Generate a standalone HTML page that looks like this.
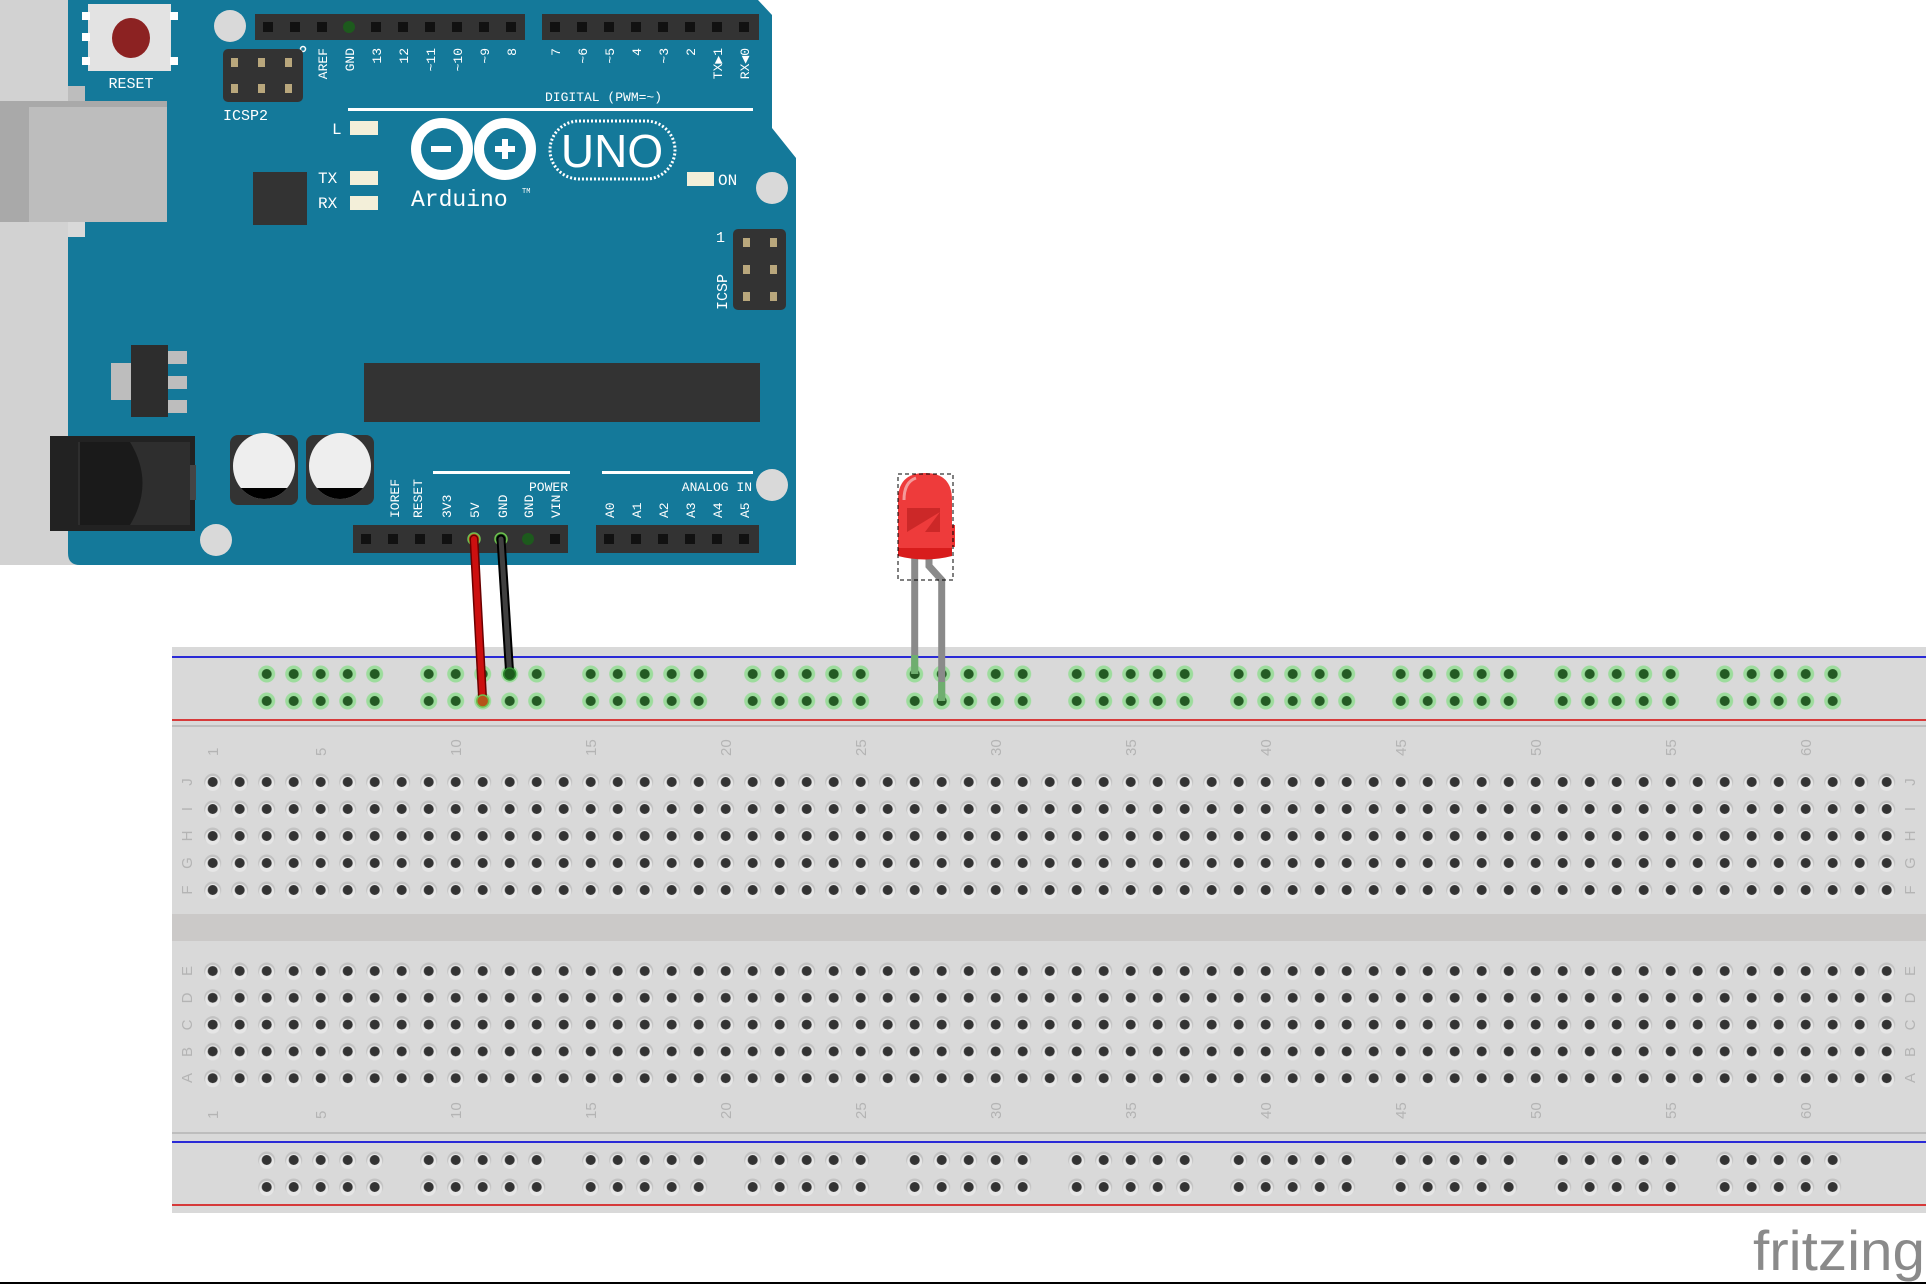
<!DOCTYPE html>
<html><head><meta charset="utf-8"><style>
html,body{margin:0;padding:0;background:#fff;}
svg{display:block;}
.w{fill:#fff;font-family:"Liberation Mono",monospace;}
.n{fill:#b4b4b4;font-family:"Liberation Sans",sans-serif;font-size:15px;}
</style></head><body>
<svg width="1926" height="1284" viewBox="0 0 1926 1284" xmlns="http://www.w3.org/2000/svg">
<defs>
<pattern id="hole" patternUnits="userSpaceOnUse" x="199.2" y="768.5" width="27" height="27">
<circle cx="13.5" cy="13.5" r="8.5" fill="#c2c2c2"/><circle cx="13.5" cy="15" r="7.5" fill="#e6e6e6"/><circle cx="13.5" cy="13.5" r="5" fill="#333"/></pattern>
<pattern id="hole2" patternUnits="userSpaceOnUse" x="199.2" y="957.5" width="27" height="26.8">
<circle cx="13.5" cy="13.5" r="8.5" fill="#c2c2c2"/><circle cx="13.5" cy="15" r="7.5" fill="#e6e6e6"/><circle cx="13.5" cy="13.5" r="5" fill="#333"/></pattern>
<pattern id="grail" patternUnits="userSpaceOnUse" x="253.2" y="660.5" width="162" height="27">
<g fill="#9ddc9d"><circle cx="13.5" cy="13.5" r="8.5"/><circle cx="40.5" cy="13.5" r="8.5"/><circle cx="67.5" cy="13.5" r="8.5"/><circle cx="94.5" cy="13.5" r="8.5"/><circle cx="121.5" cy="13.5" r="8.5"/></g>
<g fill="#245a24"><circle cx="13.5" cy="13.5" r="5"/><circle cx="40.5" cy="13.5" r="5"/><circle cx="67.5" cy="13.5" r="5"/><circle cx="94.5" cy="13.5" r="5"/><circle cx="121.5" cy="13.5" r="5"/></g></pattern>
<pattern id="brail" patternUnits="userSpaceOnUse" x="253.2" y="1146.5" width="162" height="27">
<g fill="#c2c2c2"><circle cx="13.5" cy="13.5" r="8.5"/><circle cx="40.5" cy="13.5" r="8.5"/><circle cx="67.5" cy="13.5" r="8.5"/><circle cx="94.5" cy="13.5" r="8.5"/><circle cx="121.5" cy="13.5" r="8.5"/></g>
<g fill="#e6e6e6"><circle cx="13.5" cy="15" r="7.5"/><circle cx="40.5" cy="15" r="7.5"/><circle cx="67.5" cy="15" r="7.5"/><circle cx="94.5" cy="15" r="7.5"/><circle cx="121.5" cy="15" r="7.5"/></g>
<g fill="#333"><circle cx="13.5" cy="13.5" r="5"/><circle cx="40.5" cy="13.5" r="5"/><circle cx="67.5" cy="13.5" r="5"/><circle cx="94.5" cy="13.5" r="5"/><circle cx="121.5" cy="13.5" r="5"/></g></pattern>
<clipPath id="c1"><ellipse cx="264" cy="466" rx="31" ry="33"/></clipPath>
<clipPath id="c2"><ellipse cx="340" cy="466" rx="31" ry="33"/></clipPath>
</defs>

<!-- breadboard -->
<rect x="172" y="647" width="1754" height="566" fill="#d9d9d9"/>
<rect x="172" y="656" width="1754" height="2" fill="#2a2ad6"/>
<rect x="172" y="719" width="1754" height="2" fill="#d63a3a"/>
<rect x="172" y="725" width="1754" height="2" fill="#bdbdbd"/>
<rect x="172" y="914" width="1754" height="27" fill="#cbc9c8"/>
<rect x="172" y="1132" width="1754" height="2" fill="#bdbdbd"/>
<rect x="172" y="1141" width="1754" height="2" fill="#2a2ad6"/>
<rect x="172" y="1204" width="1754" height="2" fill="#d63a3a"/>
<rect x="199.2" y="768.5" width="1701" height="135" fill="url(#hole)"/>
<rect x="199.2" y="957.5" width="1701" height="134" fill="url(#hole2)"/>
<rect x="253.2" y="660.5" width="1620" height="54" fill="url(#grail)"/>
<rect x="253.2" y="1146.5" width="1620" height="54" fill="url(#brail)"/>

<g class="n">
<g transform="translate(0,756)">
<text transform="translate(218,0) rotate(-90)">1</text><text transform="translate(326,0) rotate(-90)">5</text><text transform="translate(461,0) rotate(-90)">10</text><text transform="translate(596,0) rotate(-90)">15</text><text transform="translate(731,0) rotate(-90)">20</text><text transform="translate(866,0) rotate(-90)">25</text><text transform="translate(1001,0) rotate(-90)">30</text><text transform="translate(1136,0) rotate(-90)">35</text><text transform="translate(1271,0) rotate(-90)">40</text><text transform="translate(1406,0) rotate(-90)">45</text><text transform="translate(1541,0) rotate(-90)">50</text><text transform="translate(1676,0) rotate(-90)">55</text><text transform="translate(1811,0) rotate(-90)">60</text>
</g>
<g transform="translate(0,1119)">
<text transform="translate(218,0) rotate(-90)">1</text><text transform="translate(326,0) rotate(-90)">5</text><text transform="translate(461,0) rotate(-90)">10</text><text transform="translate(596,0) rotate(-90)">15</text><text transform="translate(731,0) rotate(-90)">20</text><text transform="translate(866,0) rotate(-90)">25</text><text transform="translate(1001,0) rotate(-90)">30</text><text transform="translate(1136,0) rotate(-90)">35</text><text transform="translate(1271,0) rotate(-90)">40</text><text transform="translate(1406,0) rotate(-90)">45</text><text transform="translate(1541,0) rotate(-90)">50</text><text transform="translate(1676,0) rotate(-90)">55</text><text transform="translate(1811,0) rotate(-90)">60</text>
</g>
<g text-anchor="middle">
<text transform="translate(192,782) rotate(-90)">J</text><text transform="translate(192,809) rotate(-90)">I</text><text transform="translate(192,836) rotate(-90)">H</text><text transform="translate(192,863) rotate(-90)">G</text><text transform="translate(192,890) rotate(-90)">F</text>
<text transform="translate(192,971) rotate(-90)">E</text><text transform="translate(192,998) rotate(-90)">D</text><text transform="translate(192,1025) rotate(-90)">C</text><text transform="translate(192,1052) rotate(-90)">B</text><text transform="translate(192,1078) rotate(-90)">A</text>
<text transform="translate(1915,782) rotate(-90)">J</text><text transform="translate(1915,809) rotate(-90)">I</text><text transform="translate(1915,836) rotate(-90)">H</text><text transform="translate(1915,863) rotate(-90)">G</text><text transform="translate(1915,890) rotate(-90)">F</text>
<text transform="translate(1915,971) rotate(-90)">E</text><text transform="translate(1915,998) rotate(-90)">D</text><text transform="translate(1915,1025) rotate(-90)">C</text><text transform="translate(1915,1052) rotate(-90)">B</text><text transform="translate(1915,1078) rotate(-90)">A</text>
</g>
</g>

<!-- arduino -->
<rect x="0" y="0" width="80" height="565" fill="#d2d2d2"/>
<path d="M68,0 L758,0 L772,15 L772,128 L796,158 L796,565 L80,565 Q68,565 68,553 Z" fill="#14799a"/>
<rect x="0" y="101" width="167" height="121" fill="#bdbdbd"/>
<rect x="0" y="101" width="29" height="121" fill="#a9a9a9"/>
<rect x="0" y="101" width="167" height="6" fill="#a9a9a9"/>
<rect x="68" y="86" width="17" height="15" fill="#bdbdbd"/><rect x="68" y="222" width="17" height="15" fill="#d9d9d9"/>
<rect x="88" y="4" width="83" height="67" fill="#e3e3e3"/>
<rect x="82" y="12" width="8" height="8" fill="#fff"/><rect x="82" y="33" width="8" height="8" fill="#fff"/><rect x="82" y="57" width="8" height="8" fill="#fff"/>
<rect x="170" y="12" width="8" height="8" fill="#fff"/><rect x="170" y="57" width="8" height="8" fill="#fff"/>
<ellipse cx="131" cy="38" rx="19" ry="20" fill="#8c2222"/>
<text class="w" x="131" y="88" font-size="15" text-anchor="middle">RESET</text>
<circle cx="230" cy="26" r="16" fill="#d9d9d9"/><circle cx="772" cy="188" r="16" fill="#d9d9d9"/><circle cx="772" cy="485" r="16" fill="#d9d9d9"/><circle cx="216" cy="540" r="16" fill="#d9d9d9"/>
<!-- headers -->
<rect x="255" y="14" width="270" height="26" fill="#333"/>
<rect x="542" y="14" width="217" height="26" fill="#333"/>
<g fill="#111"><rect x="263" y="22" width="10" height="10"/><rect x="290" y="22" width="10" height="10"/><rect x="317" y="22" width="10" height="10"/><rect x="371" y="22" width="10" height="10"/><rect x="398" y="22" width="10" height="10"/><rect x="425" y="22" width="10" height="10"/><rect x="452" y="22" width="10" height="10"/><rect x="479" y="22" width="10" height="10"/><rect x="506" y="22" width="10" height="10"/>
<rect x="550" y="22" width="10" height="10"/><rect x="577" y="22" width="10" height="10"/><rect x="604" y="22" width="10" height="10"/><rect x="631" y="22" width="10" height="10"/><rect x="658" y="22" width="10" height="10"/><rect x="685" y="22" width="10" height="10"/><rect x="712" y="22" width="10" height="10"/><rect x="739" y="22" width="10" height="10"/></g>
<circle cx="349" cy="27" r="6" fill="#1d5a1d"/>
<g class="w" font-size="13" text-anchor="end">
<text transform="translate(327,48) rotate(-90)">AREF</text><text transform="translate(354,48) rotate(-90)">GND</text><text transform="translate(381,48) rotate(-90)">13</text><text transform="translate(408,48) rotate(-90)">12</text><text transform="translate(435,48) rotate(-90)">~11</text><text transform="translate(462,48) rotate(-90)">~10</text><text transform="translate(489,48) rotate(-90)">~9</text><text transform="translate(516,48) rotate(-90)">8</text>
<text transform="translate(560,48) rotate(-90)">7</text><text transform="translate(587,48) rotate(-90)">~6</text><text transform="translate(614,48) rotate(-90)">~5</text><text transform="translate(641,48) rotate(-90)">4</text><text transform="translate(668,48) rotate(-90)">~3</text><text transform="translate(695,48) rotate(-90)">2</text><text transform="translate(722,48) rotate(-90)">TX▶1</text><text transform="translate(749,48) rotate(-90)">RX◀0</text>
</g>
<circle cx="303" cy="49" r="2.5" fill="none" stroke="#fff" stroke-width="1.5"/>
<text class="w" x="545" y="101" font-size="13">DIGITAL (PWM=~)</text>
<rect x="348" y="108" width="405" height="3" fill="#fff"/>
<!-- ICSP2 -->
<rect x="223" y="49" width="80" height="53" rx="5" fill="#333"/>
<g fill="#b9a77c"><rect x="231" y="58" width="7" height="9"/><rect x="258" y="58" width="7" height="9"/><rect x="285" y="58" width="7" height="9"/><rect x="231" y="84" width="7" height="9"/><rect x="258" y="84" width="7" height="9"/><rect x="285" y="84" width="7" height="9"/></g>
<text class="w" x="223" y="120" font-size="15">ICSP2</text>
<!-- LEDs -->
<text class="w" x="332" y="134" font-size="16">L</text><rect x="350" y="121" width="28" height="14" fill="#f3efd9"/>
<text class="w" x="318" y="183" font-size="16">TX</text><rect x="350" y="171" width="28" height="14" fill="#f3efd9"/>
<text class="w" x="318" y="208" font-size="16">RX</text><rect x="350" y="196" width="28" height="14" fill="#f3efd9"/>
<rect x="253" y="172" width="54" height="53" fill="#333"/>
<rect x="687" y="172" width="27" height="14" fill="#f3efd9"/>
<text class="w" x="718" y="185" font-size="16">ON</text>
<!-- logo -->
<circle cx="442" cy="149" r="26" fill="none" stroke="#fff" stroke-width="10"/>
<circle cx="505" cy="149" r="26" fill="none" stroke="#fff" stroke-width="10"/>
<rect x="431" y="146" width="20" height="6" fill="#fff"/>
<rect x="495" y="146" width="20" height="6" fill="#fff"/><rect x="502" y="139" width="6" height="20" fill="#fff"/>
<rect x="550" y="121" width="125" height="58" rx="29" fill="none" stroke="#fff" stroke-width="3" stroke-dasharray="2,2"/>
<text class="w" x="612" y="167" font-size="46" text-anchor="middle" style="font-family:'Liberation Sans',sans-serif">UNO</text>
<text class="w" x="411" y="206" font-size="23">Arduino</text>
<text class="w" x="522" y="193" font-size="7">TM</text>
<!-- ICSP right -->
<rect x="733" y="229" width="53" height="81" rx="5" fill="#333"/>
<g fill="#b9a77c"><rect x="743" y="238" width="7" height="9"/><rect x="770" y="238" width="7" height="9"/><rect x="743" y="265" width="7" height="9"/><rect x="770" y="265" width="7" height="9"/><rect x="743" y="292" width="7" height="9"/><rect x="770" y="292" width="7" height="9"/></g>
<text class="w" x="716" y="242" font-size="15">1</text>
<text class="w" transform="translate(727,310) rotate(-90)" font-size="15">ICSP</text>
<!-- big chip -->
<rect x="364" y="363" width="396" height="59" fill="#333"/>
<!-- regulator -->
<rect x="111" y="363" width="25" height="37" fill="#bdbdbd"/>
<rect x="160" y="351" width="27" height="13" fill="#bdbdbd"/><rect x="160" y="376" width="27" height="13" fill="#bdbdbd"/><rect x="160" y="400" width="27" height="13" fill="#bdbdbd"/>
<rect x="131" y="345" width="37" height="72" fill="#2d2d2d"/>
<!-- DC jack -->
<rect x="50" y="436" width="145" height="95" fill="#222"/>
<rect x="78" y="442" width="112" height="83" fill="#2e2e2e"/>
<path d="M80,442 L130,442 Q155,483 130,525 L80,525 Z" fill="#1a1a1a"/>
<rect x="190" y="465" width="6" height="35" fill="#444"/>
<!-- caps -->
<rect x="230" y="435" width="68" height="70" rx="8" fill="#333"/>
<rect x="306" y="435" width="68" height="70" rx="8" fill="#333"/>
<ellipse cx="264" cy="466" rx="31" ry="33" fill="#eee"/><ellipse cx="340" cy="466" rx="31" ry="33" fill="#eee"/>
<rect x="230" y="488" width="70" height="20" fill="#000" clip-path="url(#c1)"/>
<rect x="306" y="488" width="70" height="20" fill="#000" clip-path="url(#c2)"/>
<!-- bottom headers -->
<rect x="353" y="525" width="215" height="28" fill="#333"/>
<rect x="596" y="525" width="163" height="28" fill="#333"/>
<g fill="#111"><rect x="361" y="534" width="10" height="10"/><rect x="388" y="534" width="10" height="10"/><rect x="415" y="534" width="10" height="10"/><rect x="442" y="534" width="10" height="10"/><rect x="550" y="534" width="10" height="10"/>
<rect x="604" y="534" width="10" height="10"/><rect x="631" y="534" width="10" height="10"/><rect x="658" y="534" width="10" height="10"/><rect x="685" y="534" width="10" height="10"/><rect x="712" y="534" width="10" height="10"/><rect x="739" y="534" width="10" height="10"/></g>
<circle cx="474" cy="539" r="6" fill="#c05a1a" stroke="#6fbf4f" stroke-width="1.5"/>
<circle cx="501" cy="539" r="6" fill="#1d5a1d" stroke="#6fbf4f" stroke-width="1.5"/>
<circle cx="528" cy="539" r="6" fill="#1d5a1d"/>
<rect x="433" y="471" width="137" height="3" fill="#fff"/><rect x="602" y="471" width="151" height="3" fill="#fff"/>
<text class="w" x="568" y="491" font-size="13" text-anchor="end">POWER</text>
<text class="w" x="752" y="491" font-size="13" text-anchor="end">ANALOG IN</text>
<g class="w" font-size="13">
<text transform="translate(399,518) rotate(-90)">IOREF</text><text transform="translate(422,518) rotate(-90)">RESET</text><text transform="translate(451,518) rotate(-90)">3V3</text><text transform="translate(479,518) rotate(-90)">5V</text><text transform="translate(507,518) rotate(-90)">GND</text><text transform="translate(533,518) rotate(-90)">GND</text><text transform="translate(560,518) rotate(-90)">VIN</text>
<text transform="translate(614,518) rotate(-90)">A0</text><text transform="translate(641,518) rotate(-90)">A1</text><text transform="translate(668,518) rotate(-90)">A2</text><text transform="translate(695,518) rotate(-90)">A3</text><text transform="translate(722,518) rotate(-90)">A4</text><text transform="translate(749,518) rotate(-90)">A5</text>
</g>

<!-- wires -->
<path d="M474,539 L482.7,701" stroke="#6a0000" stroke-width="9" stroke-linecap="round" fill="none"/>
<path d="M474,539 L482.7,701" stroke="#cc1010" stroke-width="6" stroke-linecap="round" fill="none"/>
<path d="M501,539 L509.7,674" stroke="#000" stroke-width="9" stroke-linecap="round" fill="none"/>
<path d="M501,539 L509.7,674" stroke="#404040" stroke-width="5" stroke-linecap="round" fill="none"/>
<circle cx="482.7" cy="701" r="6" fill="#b5531a" stroke="#6fbf4f" stroke-width="1.5"/>
<circle cx="509.7" cy="674" r="6" fill="#1d5a1d" stroke="#2e8a2e" stroke-width="1.5"/>

<!-- LED -->
<path d="M914.7,555 L914.7,674" stroke="#8a8a8a" stroke-width="7" fill="none"/>
<path d="M929,555 L929,566 L941.7,580 L941.7,701" stroke="#8a8a8a" stroke-width="7" fill="none"/>
<path d="M914.7,655 L914.7,674" stroke="#6fae6f" stroke-width="7"/>
<path d="M941.7,682 L941.7,701" stroke="#6fae6f" stroke-width="7"/>
<path d="M898,555 L898,500 Q898,473 925,473 Q952,473 952,500 L952,555 Z" fill="#ee3b3b"/>
<path d="M898,548 L952,548 L952,556 Q925,563 898,556 Z" fill="#d81c1c"/>
<rect x="952" y="525" width="3" height="22" fill="#e33"/>
<path d="M907,508 L940,508 L940,532 L925,532 L940,512 L907,532 Z" fill="#c32424" opacity="0.8"/>
<path d="M904,500 Q904,482 916,478" stroke="#f49a9a" stroke-width="3" fill="none"/>
<rect x="898" y="474" width="55" height="106" fill="none" stroke="#000" stroke-width="1" stroke-dasharray="4,3"/>

<!-- fritzing -->
<text x="1753" y="1270" style="font-family:'Liberation Sans',sans-serif" font-size="56" fill="#8a8a8a" textLength="172" lengthAdjust="spacingAndGlyphs">fritzing</text>
<rect x="0" y="1282" width="1926" height="2" fill="#000"/>
</svg>
</body></html>
